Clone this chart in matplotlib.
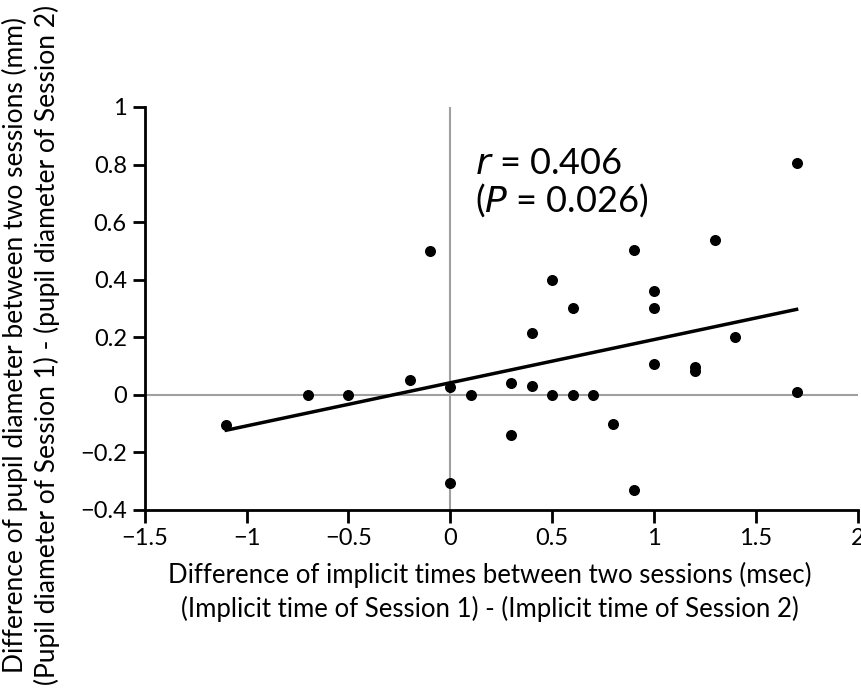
import numpy as np
import matplotlib.pyplot as plt

plt.rcParams['font.family'] = ['Lato', 'DejaVu Sans']

# points
x_vals = [-1.1, -0.7, -0.5, -0.2, -0.1, 0.0, 0.0, 0.1, 0.3, 0.3, 0.4, 0.4, 0.5, 0.5, 0.6,
          0.6, 0.7, 0.8, 0.9, 0.9, 1.0, 1.0, 1.0, 1.2, 1.2, 1.3, 1.4, 1.7, 1.7]
y_vals = [-0.105, 0.0, 0.0, 0.052, 0.50, 0.028, -0.305, 0.0, 0.042, -0.139, 0.216, 0.031, 0.40, 0.0, 0.303,
          0.0, 0.0, -0.101, 0.502, -0.330, 0.359, 0.303, 0.108, 0.097, 0.081, 0.537, 0.202, 0.806, 0.010]
x_ticks = [-1.5, -1, -0.5, 0, 0.5, 1, 1.5, 2]
y_ticks = [-0.4, -0.2, 0, 0.2, 0.4, 0.6, 0.8, 1]

x = np.array(x_vals)
y = np.array(y_vals)
slope, intercept = np.polyfit(x, y, 1)

fig = plt.figure(figsize=(8.62, 6.9), dpi=100)
ax = fig.add_axes([0.168, 0.261, 0.827, 0.584])

ax.axhline(0, color='#a0a0a0', lw=1.5, zorder=1)
ax.axvline(0, color='#a0a0a0', lw=1.5, zorder=1)

xl = np.array([x.min(), x.max()])
ax.plot(xl, intercept + slope * xl, color='black', lw=2.5, zorder=2)
ax.scatter(x, y, s=48, color='black', zorder=3)

ax.set_xlim(-1.5, 2)
ax.set_ylim(-0.4, 1)
ax.set_xticks(x_ticks)
ax.set_xticklabels(['\u22121.5', '\u22121', '\u22120.5', '0', '0.5', '1', '1.5', '2'])
ax.set_yticks(y_ticks)
ax.set_yticklabels(['\u22120.4', '\u22120.2', '0', '0.2', '0.4', '0.6', '0.8', '1'])
for s in ['top', 'right']:
    ax.spines[s].set_visible(False)
for s in ['left', 'bottom']:
    ax.spines[s].set_linewidth(2)
ax.tick_params(direction='out', length=9, width=2, labelsize=17, pad=4)

ax.text(0.12, 0.767, '$\\it{r}$ = 0.406', fontsize=26, va='baseline')
ax.text(0.12, 0.638, '($\\it{P}$ = 0.026)', fontsize=26, va='baseline')

ax.set_xlabel('Difference of implicit times between two sessions (msec)\n'
              '(Implicit time of Session 1) - (Implicit time of Session 2)',
              fontsize=18.5, linespacing=1.35)
ax.xaxis.set_label_coords(0.484, -0.13)
ax.set_ylabel('Difference of pupil diameter between two sessions (mm)\n'
              '(Pupil diameter of Session 1) - (pupil diameter of Session 2)',
              fontsize=19, linespacing=1.3)
ax.yaxis.set_label_coords(-0.119, 0.41)

plt.savefig('out.png', dpi=100)
